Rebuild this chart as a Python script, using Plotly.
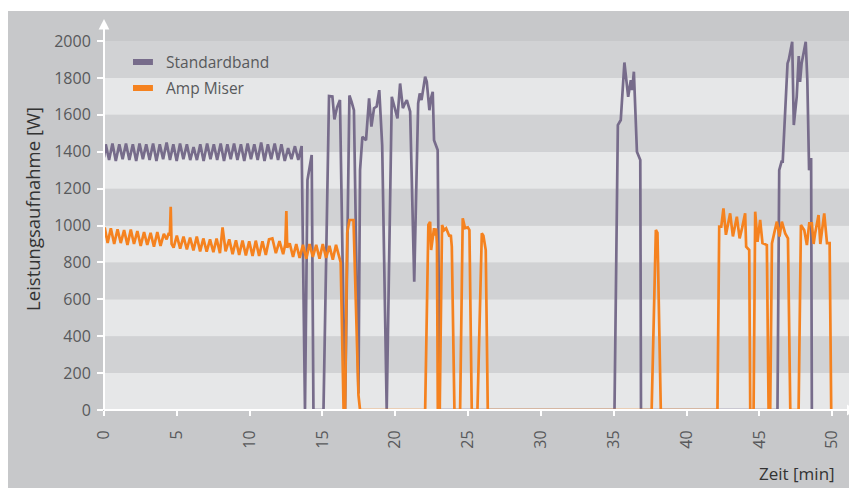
import plotly.graph_objects as go

# ---------------- data ----------------
x_ticks = [0, 5, 10, 15, 20, 25, 30, 35, 40, 45, 50]
y_ticks = [0, 200, 400, 600, 800, 1000, 1200, 1400, 1600, 1800, 2000]

series_names = ["Standardband", "Amp Miser"]

t_std = [0.00, 0.12, 0.35, 0.58, 0.81, 1.05, 1.28, 1.51, 1.74, 1.98, 2.21, 2.44, 2.67, 2.90,
         3.13, 3.37, 3.60, 3.83, 4.06, 4.30, 4.53, 4.76, 4.99, 5.22, 5.45, 5.69, 5.92, 6.15,
         6.38, 6.61, 6.84, 7.08, 7.31, 7.54, 7.77, 8.01, 8.24, 8.47, 8.70, 8.93, 9.16, 9.40,
         9.63, 9.86, 10.09, 10.32, 10.55, 10.79, 11.02, 11.25, 11.48, 11.72, 11.95, 12.18,
         12.41, 12.64, 12.87, 13.11, 13.34, 13.57,
         13.80, 13.97, 14.26, 14.38, 15.07, 15.45, 15.68, 15.82, 16.00, 16.20, 16.55, 16.85,
         17.00, 17.16, 17.47, 17.58, 17.74, 17.99, 18.20, 18.36, 18.54, 18.72, 18.90, 19.10,
         19.41, 19.76, 19.94, 20.15, 20.33, 20.52, 20.65, 20.79, 21.02, 21.30, 21.57, 21.68,
         21.80, 22.05, 22.16, 22.34, 22.45, 22.57, 22.66, 22.91, 23.05,
         35.05, 35.28, 35.48, 35.73, 35.99, 36.17, 36.26, 36.38, 36.59, 36.82, 36.87,
         46.24, 46.36, 46.52, 46.60, 46.93, 47.02, 47.25, 47.36, 47.56, 47.70, 47.79, 47.90,
         48.18, 48.29, 48.41, 48.55, 48.60, 48.66]
w_std = [1370, 1440, 1355, 1445, 1350, 1440, 1360, 1445, 1355, 1440, 1350, 1445, 1360, 1440,
         1355, 1445, 1350, 1440, 1360, 1450, 1355, 1440, 1350, 1445, 1360, 1440, 1355, 1425,
         1355, 1440, 1350, 1445, 1360, 1440, 1355, 1445, 1350, 1440, 1360, 1445, 1355, 1440,
         1350, 1445, 1360, 1440, 1355, 1450, 1350, 1440, 1360, 1445, 1355, 1440, 1350, 1420,
         1360, 1430, 1355, 1431,
         0, 1247, 1382, 0, 0, 1702, 1700, 1575, 1640, 1680, 0, 1705,
         1670, 1625, 90, 1300, 1481, 1463, 1689, 1536, 1636, 1645, 1734, 1433,
         0, 1698, 1644, 1581, 1770, 1636, 1660, 1680, 1618, 696, 1662, 1716,
         1680, 1807, 1780, 1625, 1690, 1725, 1463, 1409, 0,
         0, 1545, 1572, 1884, 1698, 1788, 1734, 1834, 1400, 1355, 0,
         0, 1300, 1346, 1346, 1879, 1900, 1996, 1545, 1698, 1919, 1779, 1880,
         1996, 1788, 1300, 1366, 0, 0]

t_amp = [0.00, 0.05, 0.25, 0.47, 0.70, 0.93, 1.15, 1.38, 1.61, 1.84, 2.06, 2.29, 2.52, 2.75,
         2.97, 3.20, 3.43, 3.66, 3.88, 4.11, 4.30, 4.45, 4.52, 4.58, 4.64, 4.78, 5.00, 5.23,
         5.46, 5.69, 5.91, 6.14, 6.37, 6.60, 6.82, 7.05, 7.28, 7.51, 7.73, 7.96, 8.14, 8.35,
         8.60, 8.83, 9.06, 9.28, 9.51, 9.74, 9.97, 10.20, 10.42, 10.65, 10.88, 11.11, 11.33,
         11.56, 11.80, 12.05, 12.30, 12.45, 12.52, 12.58, 12.75, 12.98, 13.20, 13.43, 13.66,
         13.89, 14.11, 14.34, 14.57, 14.80, 15.02, 15.25, 15.48, 15.71, 15.93, 16.25, 16.45,
         16.55, 16.70, 16.85, 17.13, 17.47, 17.58,
         22.05, 22.27, 22.39, 22.46, 22.66, 22.73, 22.80, 22.86, 22.92, 23.05, 23.21, 23.35,
         23.49, 23.72, 23.81, 23.88, 24.06, 24.45, 24.63, 24.79, 24.98, 25.09, 25.25, 25.64,
         25.94, 26.05, 26.21, 26.35,
         37.60, 37.89, 38.00, 38.23,
         42.12, 42.24, 42.38, 42.53, 42.70, 42.99, 43.18, 43.45, 43.64, 43.82, 44.02, 44.09,
         44.30, 44.37, 44.60, 44.71, 44.87, 45.05, 45.21, 45.51, 45.63, 45.74, 45.86, 46.02,
         46.20, 46.38, 46.54, 46.77, 46.96, 47.12, 47.69, 47.85, 48.08, 48.26, 48.42, 48.60,
         48.72, 48.83, 49.06, 49.18, 49.45, 49.64, 49.82, 49.93]
w_amp = [935, 990, 905, 985, 900, 980, 905, 975, 895, 978, 900, 970, 890, 965,
         895, 960, 885, 965, 890, 955, 925, 960, 945, 1102, 900, 880, 945, 875,
         940, 870, 935, 865, 940, 860, 930, 858, 925, 855, 930, 850, 990, 860,
         925, 845, 920, 840, 918, 838, 915, 835, 918, 835, 915, 840, 925,
         930, 850, 915, 845, 900, 1078, 880, 903, 830, 900, 825, 895,
         820, 900, 830, 895, 820, 900, 825, 890, 815, 895, 800, 0,
         0, 960, 1030, 1030, 81, 0,
         0, 1003, 1020, 867, 985, 945, 985, 900, 0, 0, 1003, 975,
         985, 940, 950, 885, 0, 0, 1039, 986, 990, 975, 0, 0,
         958, 945, 867, 0,
         0, 976, 960, 0,
         0, 994, 994, 1093, 950, 1066, 941, 1048, 930, 990, 1066, 885,
         867, 0, 0, 1075, 912, 1030, 905, 894, 0, 0, 903, 960,
         1021, 940, 1021, 957, 930, 0, 0, 1003, 975, 894, 1012, 1012,
         900, 960, 1057, 900, 1066, 905, 905, 0]

# ---------------- style ----------------
c_std = "#776c8b"
c_amp = "#f5821f"
c_outer = "#c7c8ca"
c_dark_band = "#d1d2d4"
c_light_band = "#e6e7e8"
c_text = "#58595b"
c_title = "#333333"
font_family = "Open Sans, Noto Sans, DejaVu Sans, sans-serif"
fs = 16

fig = go.Figure()
fig.add_trace(go.Scatter(x=t_std, y=w_std, mode="lines", name=series_names[0],
                         line=dict(color=c_std, width=2.7), showlegend=False))
fig.add_trace(go.Scatter(x=t_amp, y=w_amp, mode="lines", name=series_names[1],
                         line=dict(color=c_amp, width=2.7), showlegend=False))

shapes = []
# outer grey panel
shapes.append(dict(type="rect", xref="paper", yref="paper", x0=-0.13, x1=1.012,
                   y0=-0.22, y1=1.0, fillcolor=c_outer, line=dict(width=0), layer="below"))
# horizontal bands
for i in range(len(y_ticks) - 1):
    shapes.append(dict(type="rect", xref="paper", yref="y", x0=0, x1=1.012,
                       y0=y_ticks[i], y1=y_ticks[i + 1],
                       fillcolor=c_light_band if i % 2 == 0 else c_dark_band,
                       line=dict(width=0), layer="below"))
# axis lines with arrows
shapes.append(dict(type="line", xref="paper", yref="paper", x0=0, x1=0, y0=0, y1=0.96,
                   line=dict(color="white", width=2)))
shapes.append(dict(type="line", xref="paper", yref="paper", x0=0, x1=0.99, y0=0, y1=0,
                   line=dict(color="white", width=2)))
shapes.append(dict(type="path", xref="paper", yref="paper",
                   path="M -0.0071 0.9536 L 0 0.98 L 0.0071 0.9536 Z",
                   fillcolor="white", line=dict(width=0)))
shapes.append(dict(type="path", xref="paper", yref="paper",
                   path="M 0.9867 0.0135 L 0.9996 0 L 0.9867 -0.0135 Z",
                   fillcolor="white", line=dict(width=0)))
# legend samples
shapes.append(dict(type="line", xref="paper", yref="paper", x0=0.0385, x1=0.065,
                   y0=0.8722, y1=0.8722, line=dict(color=c_std, width=6)))
shapes.append(dict(type="line", xref="paper", yref="paper", x0=0.0385, x1=0.065,
                   y0=0.807, y1=0.807, line=dict(color=c_amp, width=6)))

annotations = [
    dict(text=series_names[0], xref="paper", yref="paper", x=0.0797, y=0.8722,
         xanchor="left", yanchor="middle", showarrow=False,
         font=dict(size=15.5, color=c_text, family=font_family)),
    dict(text=series_names[1], xref="paper", yref="paper", x=0.0797, y=0.807,
         xanchor="left", yanchor="middle", showarrow=False,
         font=dict(size=15.5, color=c_text, family=font_family)),
    dict(text="Zeit [min]", xref="paper", yref="paper", x=0.974, y=-0.16,
         xanchor="right", yanchor="middle", showarrow=False,
         font=dict(size=17, color=c_title, family=font_family)),
    dict(text="Leistungsaufnahme [W]", xref="paper", yref="paper", x=-0.0943, y=0.504,
         xanchor="center", yanchor="middle", textangle=-90, showarrow=False,
         font=dict(size=18.5, color=c_title, family=font_family)),
]

fig.update_layout(
    width=857, height=488,
    margin=dict(l=96, r=8, t=3, b=86),
    paper_bgcolor="white",
    plot_bgcolor="rgba(0,0,0,0)",
    font=dict(family=font_family, color=c_text, size=fs),
    shapes=shapes,
    annotations=annotations,
    showlegend=False,
    xaxis=dict(range=[0, 51.7], tickvals=x_ticks, ticktext=[str(v) for v in x_ticks],
               tickangle=-90, ticks="outside", ticklen=5, tickwidth=1.5, tickcolor="white",
               showgrid=False, zeroline=False, showline=False, automargin=False,
               tickfont=dict(size=fs, color=c_text), ticklabelstandoff=8),
    yaxis=dict(range=[0, 2163], tickvals=y_ticks, ticktext=[str(v) for v in y_ticks],
               ticks="outside", ticklen=6, tickwidth=1.5, tickcolor="white",
               showgrid=False, zeroline=False, showline=False, automargin=False,
               tickfont=dict(size=fs, color=c_text), ticklabelstandoff=3),
)

fig.write_html("out.html")
